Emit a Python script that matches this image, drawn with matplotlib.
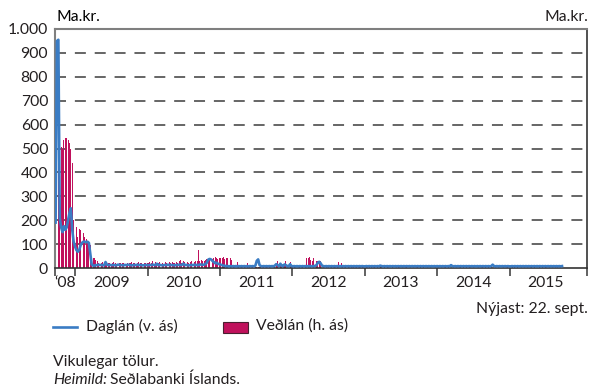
import matplotlib.pyplot as plt
import pandas as pd
from matplotlib.lines import Line2D
from matplotlib.patches import Rectangle

plt.rcParams['font.family'] = ['Lato', 'DejaVu Sans']

# vikuleg gögn, ma.kr., frá 23. sept. 2008 til 22. sept. 2015
vedlan_2008 = [870, 610, 490, 500, 505, 500, 535, 545, 545, 535, 525, 500, 440, 200, 210]
vedlan_2009 = [170, 130, 165, 160, 150, 145, 130, 120, 110, 100, 95, 45, 40, 40, 35, 30,
               22, 18, 20, 25, 18, 20, 22, 19, 20, 18, 21, 24, 20, 18, 22, 20, 19, 21,
               23, 20, 18, 22, 20, 19, 24, 21, 20, 18, 22, 25, 20, 21, 19, 23, 20, 22]
vedlan_2010 = [22, 25, 20, 28, 18, 24, 22, 20, 26, 30, 22, 18, 24, 20, 22, 27, 20, 25,
               22, 19, 24, 22, 28, 35, 22, 30, 24, 20, 26, 22, 25, 28, 22, 24, 30, 28,
               75, 30, 32, 28, 30, 35, 38, 30, 40, 42, 38, 40, 44, 42, 38, 40]
vedlan_2011 = [42, 40, 44, 38, 42, 40, 36, 40, 35, 8, 6, 5, 25, 6, 4, 5, 7, 5, 4, 20,
               6, 5, 4, 6, 5, 4, 5, 6, 4, 5, 6, 4, 5, 5, 6, 4, 5, 6, 5, 4,
               12, 30, 28, 10, 6, 8, 12, 30, 8, 6, 25, 5]
vedlan_2012 = [5, 4, 6, 5, 4, 6, 5, 8, 6, 5, 43, 42, 45, 35, 30, 40, 38, 30, 28, 25,
               30, 8, 6, 5, 4, 6, 5, 4, 5, 6, 4, 5, 6, 25, 5, 20, 4, 5, 6, 4,
               5, 4, 6, 5, 4, 5, 6, 4, 5, 6, 4, 5]
vedlan_2013 = [25, 4, 3, 4, 2, 3, 4, 3, 2, 3, 2, 3, 4, 2, 3, 2, 3, 4, 3, 2,
               3, 2, 2, 3, 4, 3, 2, 3, 2, 3, 4, 3, 2, 3, 2, 3, 2, 4, 3, 2,
               3, 2, 3, 2, 4, 3, 2, 3, 2, 3, 2, 3, 2]
vedlan_2014 = [3, 2, 3, 2, 4, 3, 2, 3, 2, 3, 2, 3, 2, 3, 2, 4, 3, 2, 3, 2,
               3, 2, 3, 4, 2, 3, 2, 3, 2, 3, 2, 4, 3, 2, 3, 2, 3, 2, 3, 2,
               4, 3, 2, 3, 2, 3, 2, 3, 2, 4, 3, 2]
vedlan_2015 = [2, 3, 2, 3, 2, 4, 3, 2, 3, 2, 3, 2, 3, 2, 4, 3, 2, 3, 2, 3,
               2, 3, 2, 3, 2, 4, 3, 2, 3, 2, 3, 2, 3, 2, 3, 2, 3, 2]

daglan_2008 = [190, 950, 955, 210, 170, 150, 175, 160, 170, 200, 230, 250, 160, 110, 90]
daglan_2009 = [75, 68, 75, 95, 105, 110, 110, 108, 110, 105, 60, 15, 10, 10, 12, 12,
               14, 12, 13, 12, 11, 25, 14, 12, 13, 12, 12, 13, 11, 12, 14, 13, 12, 12,
               11, 13, 12, 14, 13, 12, 11, 12, 13, 12, 14, 12, 13, 12, 11, 12, 13, 12]
daglan_2010 = [12, 13, 12, 14, 13, 12, 18, 12, 13, 12, 11, 12, 13, 12, 14, 12, 13, 12,
               12, 11, 13, 12, 14, 12, 13, 18, 12, 13, 12, 11, 12, 13, 12, 14, 12, 13,
               12, 15, 14, 13, 14, 16, 22, 35, 38, 36, 30, 25, 20, 22, 18, 16]
daglan_2011 = [14, 12, 10, 9, 8, 8, 7, 8, 7, 8, 7, 8, 7, 8, 7, 8, 7, 8, 7, 8,
               7, 8, 7, 8, 7, 10, 30, 36, 12, 8, 7, 8, 7, 8, 7, 8, 7, 8, 7, 10,
               16, 12, 8, 18, 9, 8, 15, 12, 8, 7, 16, 8]
daglan_2012 = [7, 8, 7, 8, 7, 8, 7, 8, 7, 8, 7, 8, 7, 8, 7, 8, 9, 12, 22, 26,
               20, 10, 8, 7, 8, 7, 8, 7, 8, 7, 8, 7, 8, 7, 8, 7, 8, 7, 8, 7,
               8, 7, 8, 7, 8, 7, 8, 7, 8, 7, 8, 7]
daglan_2013 = [7, 8, 7, 8, 7, 8, 7, 8, 7, 8, 7, 10, 8, 7, 8, 7, 8, 7, 8, 7,
               8, 7, 8, 7, 8, 7, 8, 7, 8, 7, 8, 7, 8, 7, 8, 7, 8, 7, 8, 7,
               8, 7, 8, 7, 8, 7, 8, 7, 8, 7, 8, 7, 8]
daglan_2014 = [7, 8, 7, 8, 7, 8, 7, 8, 7, 12, 8, 7, 8, 7, 8, 7, 8, 7, 8, 7,
               8, 7, 8, 7, 8, 7, 8, 7, 8, 7, 8, 7, 8, 7, 8, 7, 8, 7, 8, 14,
               8, 7, 8, 7, 8, 7, 8, 7, 8, 7, 8, 7]
daglan_2015 = [7, 8, 7, 8, 7, 8, 7, 8, 7, 8, 7, 8, 7, 8, 7, 8, 7, 8, 7, 8,
               7, 8, 7, 8, 7, 8, 7, 8, 7, 8, 7, 8, 7, 8, 7, 8, 7, 8]

vedlan = (vedlan_2008 + vedlan_2009 + vedlan_2010 + vedlan_2011 + vedlan_2012
          + vedlan_2013 + vedlan_2014 + vedlan_2015)
daglan = (daglan_2008 + daglan_2009 + daglan_2010 + daglan_2011 + daglan_2012
          + daglan_2013 + daglan_2014 + daglan_2015)
weeks = pd.date_range('2008-09-23', periods=len(vedlan), freq='7D')

year_starts = pd.to_datetime(['2009-01-01', '2010-01-01', '2011-01-01', '2012-01-01',
                              '2013-01-01', '2014-01-01', '2015-01-01'])
year_labels = ['\u201808', '2009', '2010', '2011', '2012', '2013', '2014', '2015']
y_ticks = [0, 100, 200, 300, 400, 500, 600, 700, 800, 900, 1000]
y_labels = ['0', '100', '200', '300', '400', '500', '600', '700', '800', '900', '1.000']

red = '#c0115c'
blue = '#3a7cc4'
txt = '#231f20'
fs = 11.3
W, H = 592, 390

fig = plt.figure(figsize=(W / 100, H / 100), dpi=100)
ax = fig.add_axes([55 / W, 1 - 268 / H, 532 / W, 239 / H])

x_left = pd.Timestamp('2008-09-20')
x_right = pd.Timestamp('2016-01-26')

ax.bar(weeks, vedlan, width=4.5, color=red, zorder=2, antialiased=False)
ax.plot(weeks, daglan, color=blue, lw=1.9, zorder=3, solid_joinstyle='round')

for y in y_ticks[1:-1]:
    ax.axhline(y, color='#3c3c3c', lw=1.1, ls=(0, (7.2, 5.8)), zorder=1)

ax.set_xlim(x_left, x_right)
ax.set_ylim(0, 1000)
ax.set_yticks(y_ticks)
ax.set_yticklabels(y_labels, fontsize=fs, color=txt)
ax.tick_params(axis='y', length=0, pad=5)

# ticks at year boundaries, labels centred in each year
ax.set_xticks(list(year_starts) + [x_left, x_right])
ax.set_xticklabels([])
ax.tick_params(axis='x', which='major', length=6, width=1.3, color='#555555', direction='out')
mid = [pd.Timestamp('2008-11-10')] + [pd.Timestamp(f'{y}-07-01') for y in range(2009, 2016)]
ax.set_xticks(mid, minor=True)
ax.set_xticklabels(year_labels, minor=True, fontsize=fs, color=txt)
ax.tick_params(axis='x', which='minor', length=0, pad=6)

for side in ['left', 'top']:
    ax.spines[side].set_color('#7f7f7f')
    ax.spines[side].set_linewidth(1.5)
for side in ['right', 'bottom']:
    ax.spines[side].set_color('#333333')
    ax.spines[side].set_linewidth(1.2)


def fx(px):
    return px / W


def fy(py):
    return 1 - py / H


fig.text(fx(57), fy(17), 'Ma.kr.', fontsize=fs, color='black', va='center', ha='left')
fig.text(fx(588), fy(17), 'Ma.kr.', fontsize=fs, color=txt, va='center', ha='right')
fig.text(fx(588), fy(309), 'Nýjast: 22. sept.', fontsize=fs, color=txt, va='center', ha='right')

# legend
fig.add_artist(Line2D([fx(53), fx(77)], [fy(326.5), fy(326.5)], color=blue, lw=1.9))
fig.text(fx(86), fy(326), 'Daglán (v. ás)', fontsize=fs, color=txt, va='center', ha='left')
fig.add_artist(Rectangle((fx(223), fy(333)), fx(25), 11 / H, facecolor=red,
                         edgecolor='#4a2030', lw=0.8, transform=fig.transFigure))
fig.text(fx(256), fy(326), 'Veðlán (h. ás)', fontsize=fs, color=txt, va='center', ha='left')

fig.text(fx(53), fy(362), 'Vikulegar tölur.', fontsize=fs, color=txt, va='center', ha='left')
t = fig.text(fx(53), fy(380), 'Heimild:', fontsize=fs, color=txt, va='center', ha='left',
             style='italic')
fig.canvas.draw()
bb = t.get_window_extent()
fig.text(bb.x1 / W + fx(3), fy(380), 'Seðlabanki Íslands.', fontsize=fs, color=txt,
         va='center', ha='left')

fig.savefig('out.png', dpi=100)
